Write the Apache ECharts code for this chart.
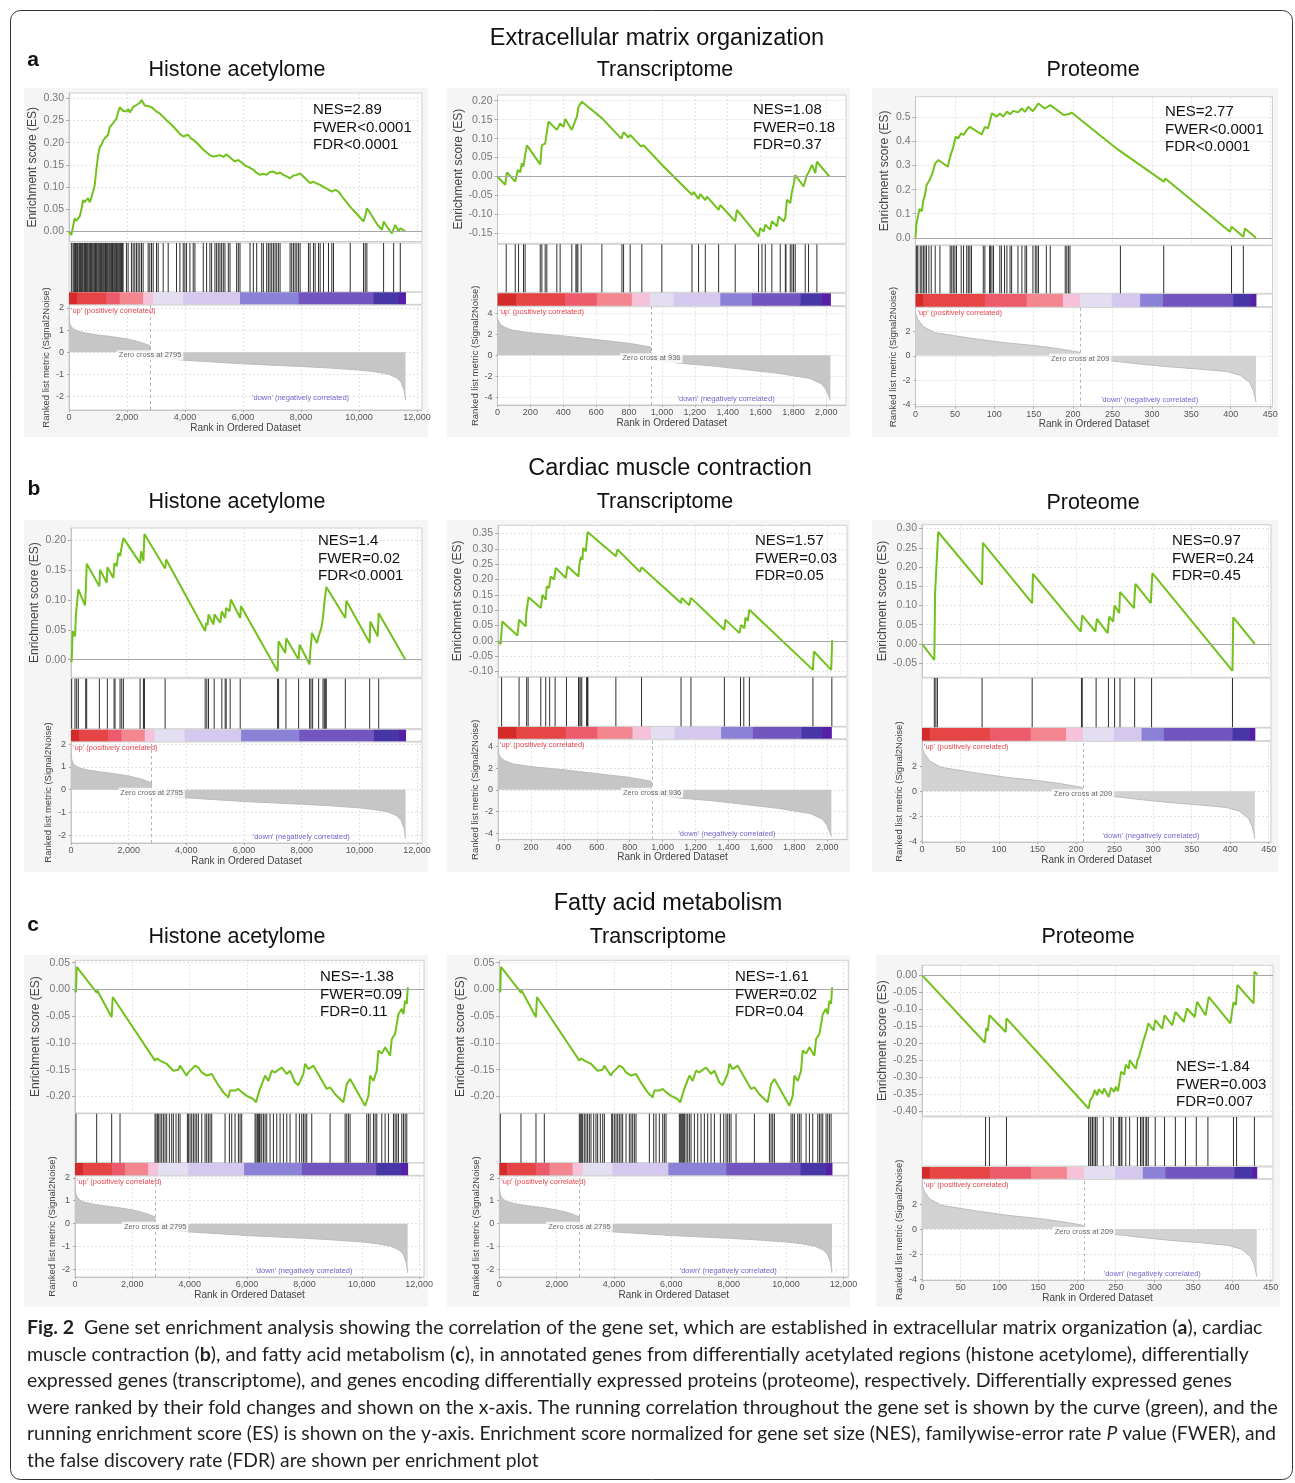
<!DOCTYPE html>
<html><head><meta charset="utf-8">
<script src="https://cdn.jsdelivr.net/npm/echarts@6/dist/echarts.min.js"></script>
<style>html,body{margin:0;padding:0;background:#fff}#c{width:1295px;height:1483px}</style>
</head><body><div id="c"></div>
<script>
// ---------------- DATA ----------------
const rowTitles = ['Extracellular matrix organization', 'Cardiac muscle contraction', 'Fatty acid metabolism'];
const rowLetters = ['a', 'b', 'c'];
const colTitles = ['Histone acetylome', 'Transcriptome', 'Proteome'];

// ranked lists (shared by each data type)
const histoneRankTicks = [0, 2000, 4000, 6000, 8000, 10000, 12000];
const transRankTicks = [0, 200, 400, 600, 800, 1000, 1200, 1400, 1600, 1800, 2000];
const protRankTicks = [0, 50, 100, 150, 200, 250, 300, 350, 400, 450];
const histoneMetricTicks = [-2, -1, 0, 1, 2];
const transMetricTicks = [-4, -2, 0, 2, 4];
const protMetricTicks = [-4, -2, 0, 2];
const histoneZeroCross = 2795;
const transZeroCross = 936;
const protZeroCross = 209;
const histoneMetric = [[0,1.55],[30,1.3],[80,1.15],[150,1.05],[300,0.95],[600,0.86],[1000,0.78],[1500,0.7],[2000,0.6],[2400,0.48],[2790,0.3],[2796,-0.02],[3000,-0.22],[3500,-0.3],[4000,-0.36],[5000,-0.44],[6000,-0.52],[7000,-0.58],[8000,-0.64],[9000,-0.71],[10000,-0.8],[10500,-0.87],[11000,-0.98],[11300,-1.15],[11450,-1.35],[11550,-1.7],[11600,-2.15]];
const transMetric = [[0,3.5],[15,3.0],[40,2.7],[90,2.4],[200,2.15],[400,1.85],[600,1.5],[800,1.15],[930,0.8],[940,-0.45],[1100,-0.75],[1300,-1.0],[1500,-1.35],[1700,-1.7],[1900,-2.2],[1970,-2.7],[2000,-3.3],[2025,-4.3]];
const protMetric = [[0,3.5],[3,3.0],[10,2.4],[25,1.9],[50,1.65],[70,1.45],[110,1.1],[150,0.85],[180,0.6],[208,0.3],[210,-0.15],[230,-0.3],[260,-0.5],[280,-0.65],[320,-0.9],[360,-1.1],[395,-1.3],[412,-1.6],[424,-2.2],[429,-2.9],[432,-3.8]];
const histoneBands = [0,276,1290,1750,2556,2900,3940,5895,7910,10500,11365,11600];
const transBands = [0,112,412,604,817,929,1071,1355,1548,1842,1974,2025];
const protBands = [0,10,88,141,187,209,249,285,314,403,425,432];

// ES curves and hit positions
const ecmHistoneES = [[0,0],[80,-0.008],[196,0.03],[250,0.024],[311,0.026],[368,0.034],[430,0.05],[484,0.071],[540,0.066],[600,0.068],[656,0.075],[720,0.066],[770,0.068],[830,0.09],[887,0.105],[944,0.14],[1000,0.17],[1060,0.19],[1120,0.195],[1180,0.205],[1232,0.21],[1290,0.212],[1350,0.218],[1405,0.235],[1460,0.232],[1520,0.244],[1580,0.24],[1640,0.255],[1700,0.27],[1750,0.28],[1810,0.276],[1865,0.272],[1923,0.274],[1980,0.27],[2040,0.276],[2100,0.268],[2150,0.272],[2210,0.28],[2270,0.278],[2326,0.285],[2380,0.283],[2440,0.29],[2500,0.296],[2560,0.29],[2610,0.284],[2670,0.28],[2730,0.282],[2790,0.278],[2850,0.28],[2900,0.278],[3020,0.27],[3130,0.266],[3250,0.258],[3370,0.25],[3480,0.244],[3600,0.236],[3710,0.228],[3820,0.22],[3940,0.214],[4000,0.216],[4110,0.218],[4200,0.21],[4300,0.206],[4400,0.2],[4520,0.192],[4630,0.184],[4750,0.178],[4860,0.172],[4975,0.169],[5090,0.17],[5200,0.172],[5320,0.168],[5430,0.174],[5490,0.172],[5600,0.164],[5720,0.158],[5840,0.161],[5960,0.155],[6080,0.148],[6200,0.145],[6360,0.139],[6470,0.132],[6590,0.1275],[6700,0.13],[6820,0.128],[6930,0.134],[7050,0.135],[7160,0.13],[7280,0.133],[7390,0.1275],[7500,0.124],[7620,0.12],[7740,0.126],[7850,0.1275],[7970,0.131],[8080,0.124],[8200,0.116],[8310,0.109],[8430,0.112],[8550,0.108],[8660,0.105],[8780,0.1],[8900,0.096],[9060,0.09],[9180,0.094],[9290,0.09],[9400,0.08],[9520,0.07],[9690,0.056],[9800,0.048],[9920,0.04],[10040,0.031],[10160,0.0225],[10230,0.04],[10270,0.0525],[10400,0.04],[10530,0.026],[10650,0.014],[10790,0.004],[10850,0.0225],[10990,0.008],[11130,-0.004],[11250,0.015],[11365,0],[11420,0.0075],[11600,0]];
const ecmHistoneHits = [81,138,170,196,225,253,290,311,350,368,400,426,460,484,520,541,570,599,630,656,690,714,745,771,800,829,860,887,915,944,970,1002,1030,1059,1090,1117,1145,1174,1200,1232,1260,1290,1320,1347,1380,1405,1440,1462,1500,1520,1550,1577,1610,1635,1665,1693,1720,1750,1780,1808,1840,1865,1980,2038,2153,2211,2268,2326,2383,2441,2499,2556,2729,2786,2844,2902,3017,3074,3247,3420,3707,3823,3938,3995,4053,4168,4283,4341,4629,4744,4859,4917,5032,5089,5147,5204,5262,5319,5377,5492,5550,5780,5838,5895,6241,6356,6471,6644,6701,6816,6874,6931,6989,7047,7104,7162,7219,7277,7622,7680,7737,7795,7853,7910,7968,8255,8313,8428,8486,8601,8659,8774,8946,9061,9119,9695,10155,10212,10270,10846,11192,11421];
const ecmTransES = [[0,0],[47,-0.022],[57,0.011],[108,-0.013],[124,0.0175],[138,0.011],[148,0.035],[158,0.026],[168,0.057],[179,0.082],[260,0.032],[270,0.083],[290,0.087],[310,0.145],[361,0.123],[381,0.14],[402,0.131],[412,0.152],[452,0.123],[483,0.158],[493,0.184],[503,0.18],[513,0.197],[635,0.154],[642,0.158],[753,0.10],[767,0.117],[797,0.103],[807,0.11],[874,0.079],[888,0.083],[1000,0.031],[1010,0.035],[1183,-0.048],[1193,-0.041],[1223,-0.059],[1233,-0.046],[1264,-0.062],[1274,-0.053],[1345,-0.088],[1355,-0.075],[1446,-0.118],[1456,-0.088],[1588,-0.158],[1598,-0.136],[1619,-0.145],[1629,-0.127],[1659,-0.14],[1669,-0.118],[1700,-0.131],[1710,-0.105],[1740,-0.118],[1750,-0.11],[1761,-0.061],[1781,-0.07],[1791,-0.04],[1801,-0.022],[1811,0.004],[1862,-0.026],[1882,0.004],[1892,0.01],[1913,0.031],[1933,0.009],[1943,0.039],[2020,0]];
const ecmTransHits = [53,108,128,158,168,260,270,290,300,361,381,452,477,483,489,509,635,757,767,807,878,1000,1183,1223,1264,1345,1446,1588,1609,1629,1669,1720,1751,1755,1781,1791,1801,1811,1872,1892,1943];
const ecmProtES = [[0,0],[1,0.053],[5,0.12],[8,0.11],[10,0.157],[12,0.177],[14,0.219],[16,0.212],[18,0.24],[20,0.233],[22,0.274],[25,0.309],[27,0.302],[29,0.323],[41,0.295],[44,0.337],[48,0.378],[51,0.42],[54,0.413],[58,0.434],[61,0.427],[65,0.447],[69,0.461],[84,0.429],[88,0.461],[92,0.454],[97,0.517],[103,0.503],[107,0.517],[111,0.503],[116,0.524],[120,0.513],[124,0.527],[130,0.521],[135,0.537],[139,0.523],[143,0.544],[149,0.526],[156,0.558],[164,0.537],[171,0.551],[188,0.51],[194,0.513],[198,0.52],[255,0.371],[258,0.364],[260,0.368],[315,0.233],[317,0.246],[399,0.025],[401,0.046],[416,0.004],[418,0.039],[432,0]];
const ecmProtHits = [1,2,3,6,8,10,12,14,17,20,25,31,44,46,48,50,52,58,61,65,67,69,71,86,88,94,95,97,99,107,109,113,116,120,122,130,135,139,141,149,152,154,156,166,171,190,192,194,196,260,315,401,416];
const cardHistoneES = [[0,0],[23,-0.004],[58,0.048],[139,0.039],[174,0.078],[220,0.078],[255,0.118],[486,0.091],[521,0.126],[544,0.161],[984,0.123],[1007,0.151],[1238,0.129],[1261,0.155],[1470,0.137],[1504,0.162],[1585,0.157],[1643,0.179],[1701,0.174],[1759,0.19],[1817,0.204],[2395,0.162],[2430,0.182],[2511,0.166],[2546,0.211],[3263,0.153],[3298,0.168],[4652,0.048],[4687,0.062],[4733,0.058],[4768,0.076],[4941,0.059],[4976,0.076],[5172,0.062],[5230,0.081],[5346,0.07],[5381,0.087],[5496,0.081],[5543,0.101],[5867,0.07],[5890,0.09],[7163,-0.0196],[7198,0.031],[7429,0.011],[7464,0.036],[7892,0],[7926,0.025],[8273,-0.008],[8297,0.014],[8355,0.045],[8528,0.028],[8586,0.039],[8679,0.053],[8737,0.07],[8783,0.095],[8852,0.122],[9512,0.07],[9546,0.099],[10356,0.028],[10379,0.064],[10634,0.039],[10669,0.078],[11595,0]];
const cardHistoneHits = [23,139,197,255,509,544,984,1261,1493,1527,1701,1759,1817,2395,2511,2534,2546,3263,4652,4710,4768,4964,5230,5346,5381,5519,5867,7163,7198,7452,7892,8273,8320,8378,8586,8737,8783,8818,8852,9512,10356,10669];
const cardTransES = [[0,0],[16,-0.011],[26,0.063],[118,0.017],[128,0.069],[168,0.047],[172,0.09],[179,0.095],[185,0.142],[260,0.107],[270,0.15],[290,0.134],[296,0.178],[310,0.172],[320,0.21],[341,0.2],[351,0.238],[412,0.205],[422,0.243],[489,0.21],[493,0.243],[503,0.273],[513,0.265],[517,0.303],[533,0.292],[544,0.355],[716,0.276],[726,0.298],[862,0.225],[872,0.24],[1112,0.123],[1116,0.14],[1162,0.116],[1172,0.14],[1375,0.036],[1381,0.069],[1467,0.025],[1477,0.052],[1497,0.041],[1503,0.076],[1517,0.065],[1527,0.101],[1913,-0.095],[1919,-0.035],[2024,-0.095],[2030,0.003]];
const cardTransHits = [22,128,174,183,260,290,314,347,416,489,493,503,509,538,544,546,716,872,1112,1172,1375,1473,1493,1527,1913,2028];
const cardProtES = [[0,0],[16,-0.042],[17,0.132],[19,0.13],[21,0.291],[78,0.154],[79,0.263],[143,0.106],[144,0.182],[206,0.032],[208,0.074],[225,0.032],[227,0.065],[241,0.028],[243,0.071],[248,0.058],[250,0.1],[256,0.08],[257,0.135],[275,0.093],[277,0.156],[297,0.106],[299,0.184],[403,-0.07],[404,0.069],[432,0]];
const cardProtHits = [16,18,20,78,143,207,208,226,242,250,257,276,298,403];
const fattyHistoneES = [[0,0],[35,-0.005],[58,0.042],[756,-0.006],[779,-0.002],[1279,-0.052],[1314,-0.014],[1512,-0.03],[1570,-0.027],[2791,-0.133],[2849,-0.129],[2965,-0.133],[3023,-0.13],[3198,-0.139],[3300,-0.145],[3430,-0.152],[3605,-0.15],[3663,-0.1425],[3779,-0.152],[3895,-0.161],[3954,-0.155],[4070,-0.149],[4186,-0.1425],[4302,-0.146],[4419,-0.155],[4593,-0.161],[4767,-0.158],[4950,-0.175],[5174,-0.1925],[5349,-0.202],[5407,-0.189],[5581,-0.189],[5698,-0.186],[5814,-0.192],[5988,-0.199],[6105,-0.202],[6221,-0.205],[6314,-0.211],[6380,-0.198],[6453,-0.186],[6628,-0.161],[6744,-0.171],[6860,-0.152],[6977,-0.155],[7100,-0.15],[7209,-0.146],[7384,-0.158],[7500,-0.152],[7674,-0.174],[7791,-0.179],[7965,-0.158],[8023,-0.139],[8140,-0.149],[8314,-0.1425],[8779,-0.186],[8895,-0.183],[9070,-0.196],[9360,-0.211],[9477,-0.177],[9593,-0.1675],[10116,-0.2175],[10233,-0.199],[10291,-0.161],[10407,-0.171],[10523,-0.152],[10581,-0.114],[10698,-0.12],[10814,-0.108],[10988,-0.124],[11047,-0.0925],[11163,-0.083],[11279,-0.046],[11395,-0.036],[11453,-0.046],[11512,-0.021],[11570,-0.027],[11605,0.004]];
const fattyHistoneHits = [35,756,1279,1570,2791,2826,2872,2907,2965,3023,3081,3140,3198,3291,3372,3430,3523,3605,3663,3919,3954,4012,4070,4128,4186,4244,4302,4419,4535,4593,4651,4709,4767,5233,5384,5465,5581,5698,5756,5814,6279,6314,6360,6395,6430,6453,6512,6570,6628,6686,6802,6919,7035,7151,7267,7384,7500,7709,7826,7907,7965,8023,8081,8256,8895,9419,9477,9535,9593,10174,10233,10291,10407,10465,10523,10698,10814,10930,11105,11163,11221,11279,11395,11453,11512,11570];
// the transcriptome plot in row c is drawn identically to the histone one in the source figure
const fattyTransES = fattyHistoneES;
const fattyTransHits = fattyHistoneHits;
const fattyProtES = [[0,0],[81,-0.198],[83,-0.155],[85,-0.164],[87,-0.118],[108,-0.167],[109,-0.127],[215,-0.392],[217,-0.368],[220,-0.358],[223,-0.338],[226,-0.353],[228,-0.335],[233,-0.348],[235,-0.333],[241,-0.358],[244,-0.331],[248,-0.343],[250,-0.328],[253,-0.341],[255,-0.312],[257,-0.284],[261,-0.292],[263,-0.263],[267,-0.275],[268,-0.25],[276,-0.275],[278,-0.25],[280,-0.24],[283,-0.216],[286,-0.191],[287,-0.196],[290,-0.162],[292,-0.142],[299,-0.162],[301,-0.132],[310,-0.157],[313,-0.118],[323,-0.147],[327,-0.108],[338,-0.137],[342,-0.098],[352,-0.123],[355,-0.078],[366,-0.118],[370,-0.064],[398,-0.142],[402,-0.08],[405,-0.088],[407,-0.029],[428,-0.083],[429,0.01],[433,0.002]];
const fattyProtHits = [82,87,109,215,217,218,220,222,224,226,234,244,247,254,255,257,258,263,268,278,282,284,286,289,290,292,301,313,327,340,354,369,402,406,429];

const ecmHistoneStats = ['NES=2.89', 'FWER<0.0001', 'FDR<0.0001'];
const ecmTransStats = ['NES=1.08', 'FWER=0.18', 'FDR=0.37'];
const ecmProtStats = ['NES=2.77', 'FWER<0.0001', 'FDR<0.0001'];
const cardHistoneStats = ['NES=1.4', 'FWER=0.02', 'FDR<0.0001'];
const cardTransStats = ['NES=1.57', 'FWER=0.03', 'FDR=0.05'];
const cardProtStats = ['NES=0.97', 'FWER=0.24', 'FDR=0.45'];
const fattyHistoneStats = ['NES=-1.38', 'FWER=0.09', 'FDR=0.11'];
const fattyTransStats = ['NES=-1.61', 'FWER=0.02', 'FDR=0.04'];
const fattyProtStats = ['NES=-1.84', 'FWER=0.003', 'FDR=0.007'];

const esTicksEcmHistone = [0, 0.05, 0.1, 0.15, 0.2, 0.25, 0.3];
const esTicksEcmTrans = [-0.15, -0.1, -0.05, 0, 0.05, 0.1, 0.15, 0.2];
const esTicksEcmProt = [0, 0.1, 0.2, 0.3, 0.4, 0.5];
const esTicksCardHistone = [0, 0.05, 0.1, 0.15, 0.2];
const esTicksCardTrans = [-0.1, -0.05, 0, 0.05, 0.1, 0.15, 0.2, 0.25, 0.3, 0.35];
const esTicksCardProt = [-0.05, 0, 0.05, 0.1, 0.15, 0.2, 0.25, 0.3];
const esTicksFattyHistone = [-0.2, -0.15, -0.1, -0.05, 0, 0.05];
const esTicksFattyTrans = [-0.2, -0.15, -0.1, -0.05, 0, 0.05];
const esTicksFattyProt = [-0.4, -0.35, -0.3, -0.25, -0.2, -0.15, -0.1, -0.05, 0];

const captionLines = [
  '{b|Fig. 2}  Gene set enrichment analysis showing the correlation of the gene set, which are established in extracellular matrix organization ({b|a}), cardiac',
  'muscle contraction ({b|b}), and fatty acid metabolism ({b|c}), in annotated genes from differentially acetylated regions (histone acetylome), differentially',
  'expressed genes (transcriptome), and genes encoding differentially expressed proteins (proteome), respectively. Differentially expressed genes',
  'were ranked by their fold changes and shown on the x-axis. The running correlation throughout the gene set is shown by the curve (green), and the',
  'running enrichment score (ES) is shown on the y-axis. Enrichment score normalized for gene set size (NES), familywise-error rate {i|P} value (FWER), and',
  'the false discovery rate (FDR) are shown per enrichment plot'
];

// ---------------- LAYOUT / STYLE ----------------
const FONT = "'Liberation Sans', Arial, Helvetica, sans-serif";
const bandColors = ['#d42a2a','#e64545','#ec5a6c','#f3868e','#f5c2da','#e4def3','#d4c8ef','#8b82d8','#7355c0','#4636a6','#5520a5'];
const datasets = {
  histone: {metric: histoneMetric, bands: histoneBands, zero: histoneZeroCross, rankTicks: histoneRankTicks, metTicks: histoneMetricTicks, xMax: 12170, fill: '#c6c6c6'},
  trans: {metric: transMetric, bands: transBands, zero: transZeroCross, rankTicks: transRankTicks, metTicks: transMetricTicks, xMax: 2120, fill: '#c6c6c6'},
  prot: {metric: protMetric, bands: protBands, zero: protZeroCross, rankTicks: protRankTicks, metTicks: protMetricTicks, xMax: 453, fill: '#d2d2d2'}
};
const panels = [
  {ds:'histone', es:ecmHistoneES, hits:ecmHistoneHits, stats:ecmHistoneStats, esTicks:esTicksEcmHistone, dec:2,
   L:69, W:353, esTop:93, esH:148.5, hitTop:243, hitH:49, barTop:292.3, barH:12, metTop:305, metH:105, esMin:-0.0225, esMax:0.312, metMin:-2.6, metMax:2.13, bg:[24,88,404,349], stat:[313,110], esGap:30, downOff:11.7},
  {ds:'trans', es:ecmTransES, hits:ecmTransHits, stats:ecmTransStats, esTicks:esTicksEcmTrans, dec:2,
   L:497.5, W:348.5, esTop:95, esH:148.3, hitTop:244.3, hitH:48, barTop:293.3, barH:12.4, metTop:306.7, metH:98.3, esMin:-0.176, esMax:0.215, metMin:-4.73, metMax:4.63, bg:[447,88,403,349], stat:[753,110], esGap:33, downOff:5.7},
  {ds:'prot', es:ecmProtES, hits:ecmProtHits, stats:ecmProtStats, esTicks:esTicksEcmProt, dec:1,
   L:915.5, W:357, esTop:96.7, esH:148.3, hitTop:245.7, hitH:47.6, barTop:294, barH:12.7, metTop:307.3, metH:99.4, esMin:-0.030, esMax:0.586, metMin:-4.2, metMax:4.0, bg:[872,88,406,349], stat:[1165,112], esGap:24.5, downOff:6.5},
  {ds:'histone', es:cardHistoneES, hits:cardHistoneHits, stats:cardHistoneStats, esTicks:esTicksCardHistone, dec:2,
   L:71, W:351, esTop:528, esH:149.3, hitTop:678.7, hitH:50, barTop:729.7, barH:11.6, metTop:742, metH:101, esMin:-0.0296, esMax:0.221, metMin:-2.34, metMax:2.09, bg:[24,520,404,352], stat:[318,541], esGap:30, downOff:6},
  {ds:'trans', es:cardTransES, hits:cardTransHits, stats:cardTransStats, esTicks:esTicksCardTrans, dec:2,
   L:498, W:349, esTop:525.3, esH:151, hitTop:677.3, hitH:49, barTop:727, barH:11.7, metTop:739.7, metH:100, esMin:-0.116, esMax:0.377, metMin:-4.6, metMax:4.63, bg:[447,520,403,352], stat:[755,541], esGap:34, downOff:5.5},
  {ds:'prot', es:cardProtES, hits:cardProtHits, stats:cardProtStats, esTicks:esTicksCardProt, dec:2,
   L:922, W:349, esTop:524.7, esH:152.6, hitTop:678, hitH:49.3, barTop:728, barH:12.7, metTop:741.3, metH:100.7, esMin:-0.087, esMax:0.31, metMin:-4.06, metMax:3.98, bg:[872,520,406,352], stat:[1172,541], esGap:32.7, downOff:5.7},
  {ds:'histone', es:fattyHistoneES, hits:fattyHistoneHits, stats:fattyHistoneStats, esTicks:esTicksFattyHistone, dec:2,
   L:75, W:349, esTop:960.3, esH:152.7, hitTop:1113.7, hitH:49, barTop:1163, barH:12.3, metTop:1176, metH:101, esMin:-0.231, esMax:0.0545, metMin:-2.33, metMax:2.08, bg:[24,955,404,352], stat:[320,977], esGap:33, downOff:6},
  {ds:'histone', es:fattyTransES, hits:fattyTransHits, stats:fattyTransStats, esTicks:esTicksFattyTrans, dec:2,
   L:499.3, W:349, esTop:960.3, esH:152.7, hitTop:1113.7, hitH:49, barTop:1163, barH:12.3, metTop:1176, metH:101, esMin:-0.231, esMax:0.0545, metMin:-2.33, metMax:2.08, bg:[447,955,403,352], stat:[735,977], esGap:32, downOff:6},
  {ds:'prot', es:fattyProtES, hits:fattyProtHits, stats:fattyProtStats, esTicks:esTicksFattyProt, dec:2,
   L:922, W:351, esTop:965.3, esH:150.7, hitTop:1117, hitH:49, barTop:1167, barH:11.7, metTop:1179.3, metH:101, esMin:-0.414, esMax:0.029, metMin:-4.1, metMax:3.98, bg:[876,955,404,352], stat:[1176,1067], esGap:32.7, downOff:6.6}
];
const rowTitlePos = [[657,39],[670,469],[668,904]];
const letterPos = [[33,60],[34,489],[33,925]];
const colTitlePos = [[[237,70],[665,70],[1093,70]],[[237,502],[665,502],[1093,503]],[[237,937],[658,937],[1088,937]]];
const captionY = [1328, 1355, 1381, 1408, 1434, 1461];
const captionWidths = [1236, 1223, 1206, 1251, 1250, 512];

// ---------------- BUILD ----------------
const option = {animation:false, backgroundColor:'#fff', grid:[], xAxis:[], yAxis:[], series:[], graphic:{elements:[]}};
const G = option.graphic.elements;
const gridLine = {show:true, lineStyle:{color:'#e2e2e2', type:[2,2], width:1}};
const gridBase = {show:true, backgroundColor:'#fff', borderColor:'#cfcfcf', borderWidth:1};
const hiddenAxis = (gi, extra) => Object.assign({gridIndex:gi, type:'value', show:false}, extra);

panels.forEach((p, k) => {
  const d = datasets[p.ds];
  const g = k * 4;
  G.push({type:'rect', z:-10, shape:{x:p.bg[0], y:p.bg[1], width:p.bg[2], height:p.bg[3]}, style:{fill:'#f5f5f5'}});
  option.grid.push(Object.assign({left:p.L, top:p.esTop, width:p.W, height:p.esH}, gridBase));
  option.grid.push(Object.assign({left:p.L, top:p.hitTop, width:p.W, height:p.hitH}, gridBase));
  option.grid.push(Object.assign({left:p.L, top:p.barTop, width:p.W, height:p.barH}, gridBase));
  option.grid.push(Object.assign({left:p.L, top:p.metTop, width:p.W, height:p.metH}, gridBase));

  // ES axes
  option.xAxis.push({gridIndex:g, type:'value', min:0, max:d.xMax, axisLabel:{show:false}, axisTick:{show:false, customValues:d.rankTicks}, axisLine:{show:false}, splitLine:gridLine});
  option.yAxis.push({gridIndex:g, type:'value', min:p.esMin, max:p.esMax,
    axisLabel:{customValues:p.esTicks, formatter:v => v.toFixed(p.dec), fontSize:10.5, color:'#777', margin:5, fontFamily:FONT},
    axisTick:{show:true, customValues:p.esTicks, length:3, lineStyle:{color:'#aaa'}},
    axisLine:{show:true, lineStyle:{color:'#c4c4c4'}}, splitLine:gridLine,
    name:'Enrichment score (ES)', nameLocation:'middle', nameGap:p.esGap, nameTextStyle:{fontSize:12, color:'#444', fontFamily:FONT}});
  // hits axes
  option.xAxis.push(hiddenAxis(g+1, {min:0, max:d.xMax}));
  option.yAxis.push(hiddenAxis(g+1, {min:0, max:1}));
  // band axes
  option.xAxis.push(hiddenAxis(g+2, {min:0, max:d.xMax}));
  option.yAxis.push(hiddenAxis(g+2, {min:0, max:1}));
  // metric axes
  option.xAxis.push({gridIndex:g+3, type:'value', min:0, max:d.xMax,
    axisLabel:{customValues:d.rankTicks, formatter:v => v.toLocaleString('en-US'), fontSize:9, color:'#555', margin:3, fontFamily:FONT},
    axisTick:{show:true, customValues:d.rankTicks, length:2, lineStyle:{color:'#aaa'}},
    axisLine:{show:true, onZero:false, lineStyle:{color:'#c4c4c4'}}, splitLine:gridLine,
    name:'Rank in Ordered Dataset', nameLocation:'middle', nameGap:12, nameTextStyle:{fontSize:10, color:'#444', fontFamily:FONT}});
  option.yAxis.push({gridIndex:g+3, type:'value', min:p.metMin, max:p.metMax,
    axisLabel:{customValues:d.metTicks, fontSize:9, color:'#555', margin:5, fontFamily:FONT},
    axisTick:{show:true, customValues:d.metTicks, length:2, lineStyle:{color:'#aaa'}},
    axisLine:{show:true, lineStyle:{color:'#c4c4c4'}}, splitLine:gridLine,
    name:'Ranked list metric (Signal2Noise)', nameLocation:'middle', nameGap:17.5, nameTextStyle:{fontSize:9.5, color:'#444', fontFamily:FONT}});

  // ES curve
  option.series.push({type:'line', xAxisIndex:g, yAxisIndex:g, data:p.es, symbol:'none', z:4,
    lineStyle:{color:'#72c11c', width:2},
    markLine:{silent:true, symbol:['none','none'], label:{show:false}, lineStyle:{color:'#a6a6a6', width:1, type:'solid'}, data:[{yAxis:0}]}});
  // hits
  option.series.push({type:'custom', xAxisIndex:g+1, yAxisIndex:g+1, data:p.hits.map(r => [r]), encode:{x:0},
    renderItem:(params, api) => {
      const a = api.coord([api.value(0), 1]);
      const b = api.coord([api.value(0), 0]);
      return {type:'line', shape:{x1:a[0], y1:a[1], x2:b[0], y2:b[1]}, style:{stroke:'#2e2e2e', lineWidth:1}};
    }});
  // colour band
  const bandData = [];
  for (let i = 0; i < d.bands.length - 1; i++) bandData.push([d.bands[i], d.bands[i+1], i]);
  option.series.push({type:'custom', xAxisIndex:g+2, yAxisIndex:g+2, data:bandData, encode:{x:[0,1]},
    renderItem:(params, api) => {
      const a = api.coord([api.value(0), 1]);
      const b = api.coord([api.value(1), 0]);
      return {type:'rect', shape:{x:a[0], y:a[1], width:b[0]-a[0]+0.5, height:b[1]-a[1]}, style:{fill:bandColors[api.value(2)]}};
    }});
  // metric area
  option.series.push({type:'line', xAxisIndex:g+3, yAxisIndex:g+3, data:d.metric, symbol:'none', z:2,
    lineStyle:{color:'#bcbcbc', width:1}, areaStyle:{color:d.fill, opacity:1},
    markLine:{silent:true, symbol:['none','none'], label:{show:false}, lineStyle:{color:'#b4b4b4', width:1, type:[3,3]}, data:[{xAxis:d.zero}]}});
  // zero cross label
  option.series.push({type:'scatter', xAxisIndex:g+3, yAxisIndex:g+3, data:[[d.zero, 0]], symbolSize:1, silent:true, z:6,
    itemStyle:{color:'rgba(0,0,0,0)'},
    label:{show:true, position:'inside', offset:[0,3], formatter:'Zero cross at ' + d.zero, fontSize:7.5, color:'#444', fontFamily:FONT, backgroundColor:'#fff', padding:[1,2]}});

  // up/down labels
  G.push({type:'text', z:10, x:p.L + 2, y:p.metTop + 5.5, style:{text:"'up' (positively correlated)", fontSize:7.5, fontFamily:FONT, fill:'#e5474f', textAlign:'left', textVerticalAlign:'middle'}});
  G.push({type:'text', z:10, x:p.L + 0.656 * p.W, y:p.metTop + p.metH - p.downOff, style:{text:"'down' (negatively correlated)", fontSize:7.5, fontFamily:FONT, fill:'#7466d0', textAlign:'center', textVerticalAlign:'middle'}});
  // stats
  G.push({type:'text', z:10, x:p.stat[0], y:p.stat[1] - 8.75, style:{text:p.stats.join('\n'), fontSize:15, lineHeight:17.5, fontFamily:FONT, fill:'#111', textAlign:'left', textVerticalAlign:'top'}});
});

// titles
rowTitles.forEach((t, r) => {
  G.push({type:'text', x:rowTitlePos[r][0], y:rowTitlePos[r][1], style:{text:t, fontSize:23.5, fontFamily:FONT, fill:'#111', textAlign:'center', textVerticalAlign:'middle'}});
  G.push({type:'text', x:letterPos[r][0], y:letterPos[r][1], style:{text:rowLetters[r], fontSize:21, fontWeight:'bold', fontFamily:FONT, fill:'#111', textAlign:'center', textVerticalAlign:'middle'}});
  colTitles.forEach((c, j) => {
    G.push({type:'text', x:colTitlePos[r][j][0], y:colTitlePos[r][j][1], style:{text:c, fontSize:21.5, fontFamily:FONT, fill:'#111', textAlign:'center', textVerticalAlign:'middle'}});
  });
});

// caption (font size fitted so each line spans its reference width)
const CAP_FONT = 'Lato, "Noto Sans", sans-serif';
(function () {
  const ctx = document.createElement('canvas').getContext('2d');
  const measure = (s, base) => {
    let w = 0;
    s.split(/(\{[bi]\|[^}]*\})/).forEach(part => {
      const m = part.match(/^\{([bi])\|([^}]*)\}$/);
      if (m) { ctx.font = (m[1] === 'b' ? 'bold ' : 'italic ') + base + 'px ' + CAP_FONT; w += ctx.measureText(m[2]).width; }
      else { ctx.font = base + 'px ' + CAP_FONT; w += ctx.measureText(part).width; }
    });
    return w;
  };
  const base = 17;
  let ref = base * captionWidths[0] / measure(captionLines[0], base);
  if (!isFinite(ref) || ref < 12 || ref > 22) ref = 17.5;
  captionLines.forEach((line, i) => {
    let fs = base * captionWidths[i] / measure(line, base);
    if (!isFinite(fs)) fs = ref;
    fs = Math.max(ref * 0.95, Math.min(ref * 1.05, fs));
    G.push({type:'text', x:27, y:captionY[i], style:{text:line, fontSize:fs, fontFamily:CAP_FONT, fill:'#231f20', textAlign:'left', textVerticalAlign:'middle',
      rich:{b:{fontWeight:'bold', fontSize:fs, fontFamily:CAP_FONT, fill:'#231f20'}, i:{fontStyle:'italic', fontSize:fs, fontFamily:CAP_FONT, fill:'#231f20'}}}});
  });
})();

// outer frame
G.push({type:'rect', z:-20, shape:{x:10.5, y:10.5, width:1282, height:1469, r:10}, style:{fill:'none', stroke:'#333', lineWidth:1}});

const chart = echarts.init(document.getElementById('c'), null, {renderer:'canvas', width:1295, height:1483});
chart.setOption(option);
</script></body></html>
